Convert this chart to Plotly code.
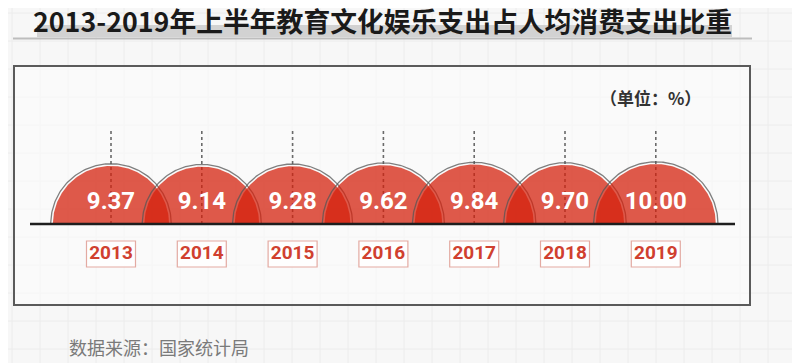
import numpy as np
import plotly.graph_objects as go

# ---- data ----
years = ["2013", "2014", "2015", "2016", "2017", "2018", "2019"]
values = [9.37, 9.14, 9.28, 9.62, 9.84, 9.70, 10.00]
value_labels = ["9.37", "9.14", "9.28", "9.62", "9.84", "9.70", "10.00"]
title_text = "2013-2019年上半年教育文化娱乐支出占人均消费支出比重"
unit_text = "（单位：%）"
source_text = "数据来源：国家统计局"

OFF = 8                     # page body margin in the browser
W, H = 800 - OFF, 363 - OFF
UNIT = 90.8                 # px per category step (also used for y so circles stay round)
X0_PX = 111 - OFF           # px position of first category
BASE_PX = 224 - OFF         # px position of baseline
R_MAX_PX = 60               # radius for the largest value

xr = [-X0_PX / UNIT, (W - X0_PX) / UNIT]
yr = [-(H - BASE_PX) / UNIT, BASE_PX / UNIT]

def px_x(p):
    return (p - OFF) / W

def px_y(p):
    return 1 - (p - OFF) / H

NARROW = "Liberation Sans Narrow, Roboto, DejaVu Sans Condensed, sans-serif"

fig = go.Figure()
shapes = []

# faint background grid
for gx in range(12, 800, 28):
    shapes.append(dict(type="line", xref="paper", yref="paper", x0=px_x(gx), x1=px_x(gx),
                       y0=0, y1=1, line=dict(color="#ececec", width=1), layer="below"))
for gy in range(13, 363, 28):
    shapes.append(dict(type="line", xref="paper", yref="paper", x0=0, x1=1,
                       y0=px_y(gy), y1=px_y(gy), line=dict(color="#ececec", width=1), layer="below"))

# title band and rule
shapes.append(dict(type="rect", xref="paper", yref="paper", x0=px_x(37), x1=px_x(732),
                   y0=px_y(37), y1=px_y(25), fillcolor="#d2d2d2", line=dict(width=0), layer="below"))
shapes.append(dict(type="line", xref="paper", yref="paper", x0=px_x(13), x1=px_x(752),
                   y0=px_y(38.5), y1=px_y(38.5), line=dict(color="#bdbdbd", width=2), layer="below"))

# frame
shapes.append(dict(type="rect", xref="paper", yref="paper", x0=px_x(14), x1=px_x(750),
                   y0=px_y(305), y1=px_y(66), fillcolor="rgba(252,252,252,0.6)",
                   line=dict(color="#5a5a5a", width=2), layer="below"))

# year boxes
bw = 24.5 / UNIT
for i, y in enumerate(years):
    shapes.append(dict(type="rect", xref="x", yref="y", x0=i - bw, x1=i + bw,
                       y0=-(267 - 224) / UNIT, y1=-(241 - 224) / UNIT,
                       line=dict(color="#e3aaa2", width=1.2), fillcolor="rgba(255,255,255,0.8)",
                       layer="below"))

# dotted guide lines (drawn before circles)
top = 96 / UNIT
for i in range(len(years)):
    fig.add_trace(go.Scatter(x=[i, i], y=[0, top], mode="lines",
                             line=dict(color="#6a6a6a", width=1.6, dash="dot"),
                             hoverinfo="skip", showlegend=False))

# semicircles
theta = np.linspace(0, np.pi, 120)
for i, v in enumerate(values):
    r = (R_MAX_PX / UNIT) * np.sqrt(v / max(values))
    xs = i + r * np.cos(theta)
    ys = r * np.sin(theta)
    ro = r + 2.2 / UNIT
    fig.add_trace(go.Scatter(x=i + ro * np.cos(theta), y=ro * np.sin(theta), mode="lines",
                             line=dict(color="rgba(85,85,85,0.75)", width=1.3),
                             hoverinfo="skip", showlegend=False))
    fig.add_trace(go.Scatter(x=np.append(xs, xs[0]), y=np.append(ys, 0), mode="lines",
                             fill="toself", fillcolor="rgba(212,32,12,0.74)",
                             line=dict(width=0), hoverinfo="skip", showlegend=False))

# value labels
fig.add_trace(go.Scatter(x=list(range(len(years))), y=[21 / UNIT] * len(years), mode="text",
                         text=value_labels,
                         textfont=dict(family=NARROW, size=24, color="white", weight="bold"),
                         hoverinfo="skip", showlegend=False))
# year labels
fig.add_trace(go.Scatter(x=list(range(len(years))), y=[-30.5 / UNIT] * len(years), mode="text",
                         text=years,
                         textfont=dict(family=NARROW, size=19, color="#d0402f", weight="bold"),
                         hoverinfo="skip", showlegend=False))

# baseline
shapes.append(dict(type="line", xref="paper", yref="y", x0=px_x(30), x1=px_x(735),
                   y0=0, y1=0, line=dict(color="#1e1e1e", width=2.5)))

annotations = [
    dict(text=f"<b>{title_text}</b>", xref="paper", yref="paper", x=px_x(31), y=px_y(21),
         xanchor="left", yanchor="middle", showarrow=False,
         font=dict(family="Noto Sans CJK SC", size=26.8, color="#1a1a1a")),
    dict(text=f"<b>{unit_text}</b>", xref="paper", yref="paper", x=px_x(650), y=px_y(97),
         xanchor="center", yanchor="middle", showarrow=False,
         font=dict(family="Noto Sans CJK SC", size=17, color="#333333")),
    dict(text=source_text, xref="paper", yref="paper", x=px_x(67), y=px_y(347),
         xanchor="left", yanchor="middle", showarrow=False,
         font=dict(family="Noto Sans CJK SC", size=18, color="#7a7a7a")),
]

fig.update_layout(
    width=W, height=H, margin=dict(l=0, r=0, t=0, b=0),
    paper_bgcolor="#f7f7f7", plot_bgcolor="rgba(0,0,0,0)",
    xaxis=dict(range=xr, visible=False, fixedrange=True),
    yaxis=dict(range=yr, visible=False, fixedrange=True),
    shapes=shapes, annotations=annotations, showlegend=False,
)

fig.write_html("out.html")
